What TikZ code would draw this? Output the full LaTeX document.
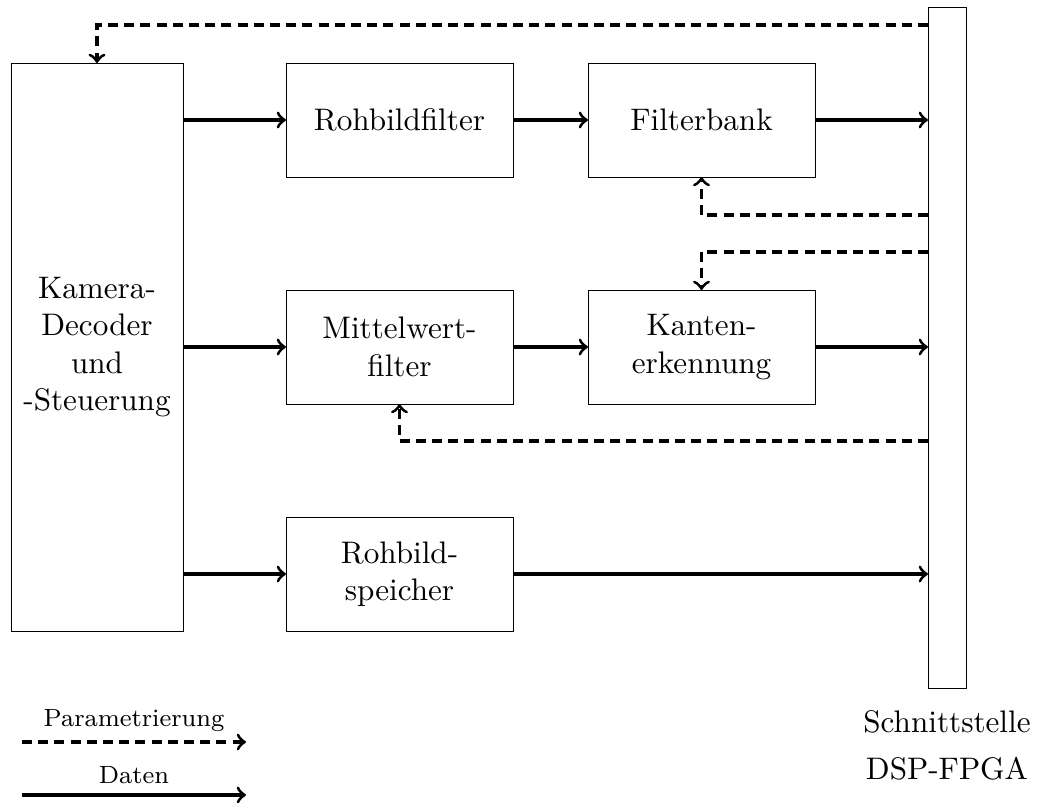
\documentclass[tikz,border=0pt]{standalone}
\usetikzlibrary{calc}
\begin{document}
\begin{tikzpicture}[x=0.321pt,y=-0.321pt,
  block/.style={draw,line width=0.3pt,inner sep=0pt,outer sep=0pt,align=center,
    minimum width=72.87pt,minimum height=36.59pt},
  data/.style={->,line width=1pt},
  param/.style={->,line width=1pt,dash pattern=on 3.2pt off 2pt},
  lbl/.style={font=\footnotesize,inner sep=1pt}]
\useasboundingbox (0,0) rectangle (1038,802);

% blocks
\node[block,minimum width=55.21pt,minimum height=182.33pt] (cam) at (97,347)
  {Kamera-\\Decoder\\und\\-Steuerung};
\node[block] (raw) at (399.5,120) {Rohbildfilter};
\node[block] (fb)  at (701.5,120) {Filterbank};
\node[block] (mw)  at (399.5,347) {Mittelwert-\\filter};
\node[block] (ke)  at (701.5,347) {Kanten-\\erkennung};
\node[block] (mem) at (399.5,574) {Rohbild-\\speicher};
\node[draw,line width=0.3pt,inner sep=0pt,outer sep=0pt,minimum width=12.2pt,
  minimum height=218.6pt] (bus) at (947,347.5) {};
\node[align=center,anchor=north] (busl) at (947,700)
  {Schnittstelle\\[2.8pt]DSP-FPGA};

% data paths
\draw[data] (cam.east |- raw.west) -- (raw.west);
\draw[data] (raw.east) -- (fb.west);
\draw[data] (fb.east) -- (fb.east -| bus.west);
\draw[data] (cam.east |- mw.west) -- (mw.west);
\draw[data] (mw.east) -- (ke.west);
\draw[data] (ke.east) -- (ke.east -| bus.west);
\draw[data] (cam.east |- mem.west) -- (mem.west);
\draw[data] (mem.east) -- (mem.east -| bus.west);

% parameter paths
\coordinate (ytop) at (0,25);
\coordinate (yfb) at (0,215);
\coordinate (yke) at (0,252);
\coordinate (ymw) at (0,441);
\draw[param] (bus.west |- ytop) -| (cam.north);
\draw[param] (bus.west |- yfb) -| (fb.south);
\draw[param] (bus.west |- yke) -| (ke.north);
\draw[param] (bus.west |- ymw) -| (mw.south);

% legend
\coordinate (lp1) at (22,742);
\coordinate (lp2) at (246,742);
\coordinate (ld1) at (22,795);
\coordinate (ld2) at (246,795);
\draw[param] (lp1) -- node[lbl,above=2pt] (lpt) {Parametrierung} (lp2);
\draw[data] (ld1) -- node[lbl,above=2pt] (ldt) {Daten} (ld2);
\end{tikzpicture}
\end{document}
